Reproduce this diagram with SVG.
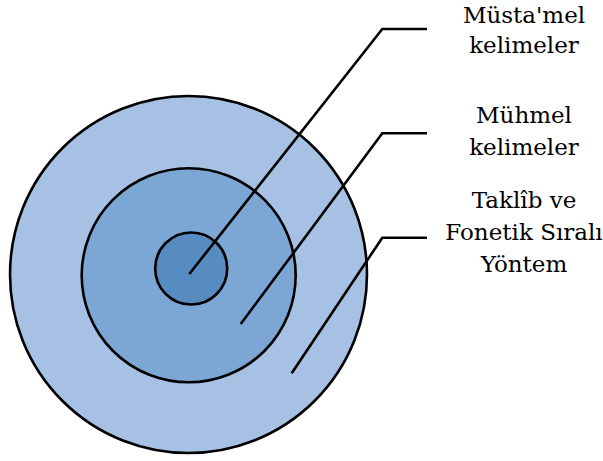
<svg xmlns="http://www.w3.org/2000/svg" width="603" height="461" viewBox="0 0 603 461">
  <style>
    .ring { stroke: #000; stroke-width: 2.6; }
    .conn { fill: none; stroke: #000; stroke-width: 2.6; stroke-linejoin: miter; }
    .lbl { font-family: "DejaVu Serif", "Liberation Serif", serif; font-size: 23px; fill: #000; text-anchor: middle; }
  </style>
  <rect width="603" height="461" fill="#fff"/>
  <g id="outer">
    <circle class="ring" cx="188.5" cy="274.5" r="178.5" fill="#A6C1E3"/>
  </g>
  <g id="middle">
    <circle class="ring" cx="188.7" cy="275.3" r="107" fill="#7CA6D3"/>
  </g>
  <g id="inner">
    <circle class="ring" cx="191.2" cy="268.5" r="36" fill="#568CC0"/>
  </g>
  <g id="connectors">
    <polyline class="conn" points="189.3,274 382.3,29 427,29"/>
    <polyline class="conn" points="240.7,324 382.3,133.3 427,133.3"/>
    <polyline class="conn" points="291.7,373.3 382.3,237.7 427,237.7"/>
  </g>
  <g id="label-mustamel">
    <text class="lbl" x="524" y="23.3">Müsta'mel</text>
    <text class="lbl" x="524" y="53.3">kelimeler</text>
  </g>
  <g id="label-muhmel">
    <text class="lbl" x="524" y="123.3">Mühmel</text>
    <text class="lbl" x="524" y="155">kelimeler</text>
  </g>
  <g id="label-taklib">
    <text class="lbl" x="524" y="208.3">Taklîb ve</text>
    <text class="lbl" x="524" y="240">Fonetik Sıralı</text>
    <text class="lbl" x="524" y="271.7">Yöntem</text>
  </g>
</svg>
